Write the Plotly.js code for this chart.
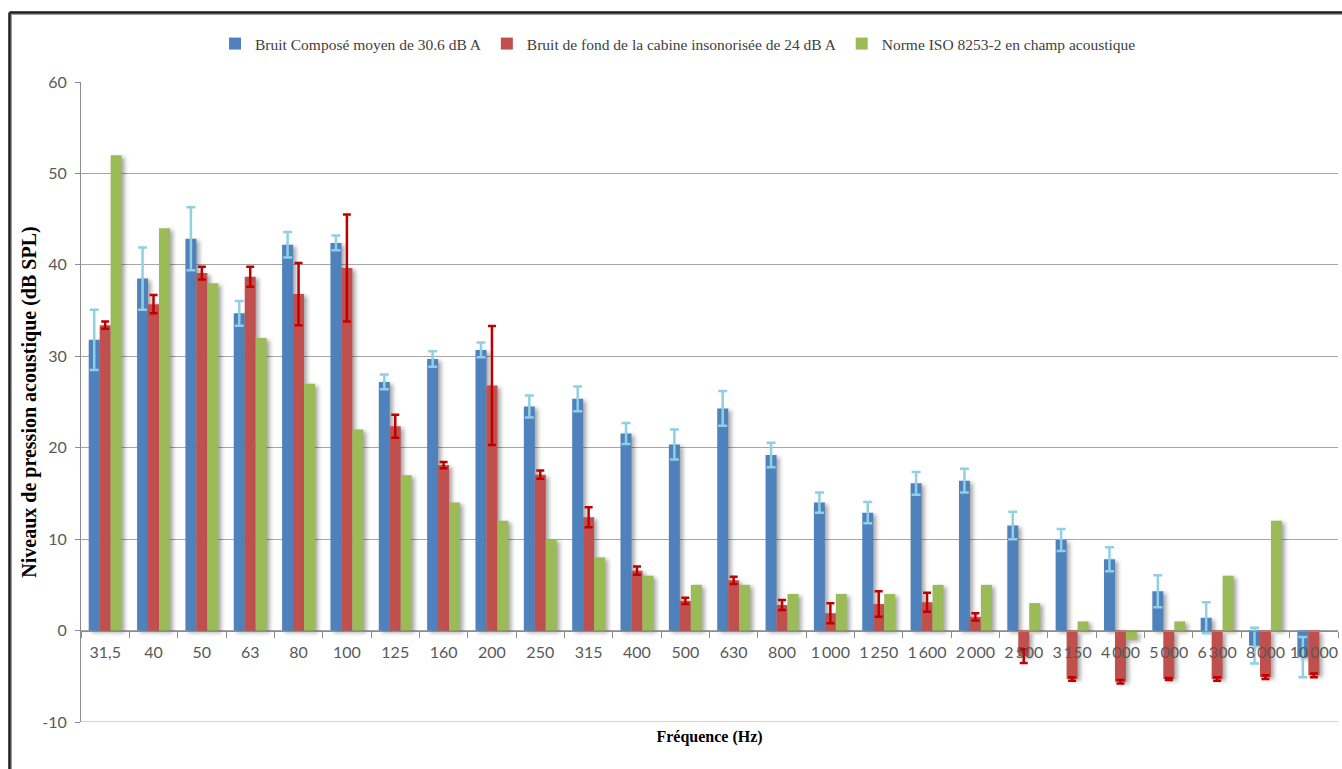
<!DOCTYPE html>
<html>
<head>
<meta charset="utf-8">
<script src="https://cdn.plot.ly/plotly-3.0.1.min.js"></script>
<style>
  html, body { margin: 0; padding: 0; background: #fff; }
  #chart { width: 1342px; height: 769px; }
  .barlayer .point path { filter: drop-shadow(3px 2px 2px rgba(0,0,0,0.35)); }
</style>
</head>
<body>
<div id="chart"></div>
<script>
// ---- Data ----
const categories = ['31,5','40','50','63','80','100','125','160','200','250','315','400','500','630','800',
  '1\u2009000','1\u2009250','1\u2009600','2\u2009000','2\u2009500','3\u2009150','4\u2009000','5\u2009000','6\u2009300','8\u2009000','10\u2009000'];

const seriesNames = [
  'Bruit Composé moyen de 30.6 dB A',
  'Bruit de fond de la cabine insonorisée de 24 dB A',
  'Norme ISO 8253-2 en champ acoustique'
];

const bruitCompose = [31.8, 38.5, 42.85, 34.7, 42.2, 42.4, 27.2, 29.7, 30.7, 24.5, 25.35, 21.55, 20.35, 24.3, 19.2,
  14.0, 12.9, 16.1, 16.4, 11.5, 9.9, 7.8, 4.3, 1.4, -1.65, -2.9];
const bruitComposeErr = [3.3, 3.4, 3.45, 1.35, 1.4, 0.8, 0.8, 0.85, 0.8, 1.2, 1.35, 1.15, 1.65, 1.9, 1.35,
  1.1, 1.15, 1.25, 1.3, 1.5, 1.2, 1.3, 1.75, 1.7, 1.95, 2.2];

const bruitFond = [33.4, 35.7, 39.1, 38.7, 36.8, 39.65, 22.35, 18.1, 26.8, 17.05, 12.4, 6.55, 3.25, 5.5, 2.8,
  1.9, 2.9, 3.1, 1.5, -2.8, -5.3, -5.6, -5.3, -5.3, -5.1, -4.9];
const bruitFondErr = [0.4, 1.0, 0.7, 1.1, 3.4, 5.85, 1.25, 0.35, 6.5, 0.45, 1.1, 0.45, 0.35, 0.4, 0.55,
  1.1, 1.4, 1.05, 0.4, 0.75, 0.2, 0.2, 0.1, 0.2, 0.2, 0.2];

const normeISO = [52, 44, 38, 32, 27, 22, 17, 14, 12, 10, 8, 6, 5, 5, 4, 4, 4, 5, 5, 3, 1, -1, 1, 6, 12, null];

const yTickVals = [-10, 0, 10, 20, 30, 40, 50, 60];
const yTickText = ['-10', '0', '10', '20', '30', '40', '50', '60'];

// ---- Styling ----
const tickFont = {family: 'Lato, "Open Sans", sans-serif', size: 16, color: '#595959'};
const axisGray = '#8c8c8c';

const traces = [
  {
    type: 'bar', name: seriesNames[0], x: categories, y: bruitCompose,
    marker: {color: '#4F81BD', line: {width: 0}},
    error_y: {type: 'data', array: bruitComposeErr, visible: true, color: '#8FD0E3', thickness: 2.5, width: 4.5}
  },
  {
    type: 'bar', name: seriesNames[1], x: categories, y: bruitFond,
    marker: {color: '#C0504D', line: {width: 0}},
    error_y: {type: 'data', array: bruitFondErr, visible: true, color: '#C00000', thickness: 2.5, width: 4}
  },
  {
    type: 'bar', name: seriesNames[2], x: categories, y: normeISO,
    marker: {color: '#9BBB59', line: {width: 0}}
  }
];

// plot area: x 81..1338, y 82..722
const L = 81, T = 82, W = 1257, H = 640;
const px = v => (v - L) / W;
const py = v => (T + H - v) / H;

const layout = {
  width: 1342, height: 769,
  margin: {l: L, r: 1342 - L - W, t: T, b: 769 - T - H, pad: 0},
  paper_bgcolor: '#ffffff', plot_bgcolor: '#ffffff',
  barmode: 'group', bargap: 0.32, bargroupgap: 0,
  showlegend: true,
  legend: {
    orientation: 'h', x: px(678), xanchor: 'center', y: py(44), yanchor: 'middle',
    font: {family: '"Liberation Serif", "DejaVu Serif", serif', size: 15.5, color: '#404040'},
    itemwidth: 30, traceorder: 'normal', bgcolor: 'rgba(0,0,0,0)'
  },
  xaxis: {
    type: 'category', anchor: 'free', position: 1 / 7,
    showline: true, linecolor: axisGray, linewidth: 1,
    ticks: 'outside', tickson: 'boundaries', ticklen: 6, tickcolor: axisGray, tickwidth: 1,
    showgrid: false, zeroline: false, tickangle: 0,
    tickfont: tickFont, ticklabelstandoff: 7,
    title: {
      text: 'Fréquence (Hz)', standoff: 71,
      font: {family: '"Liberation Serif", "DejaVu Serif", serif', size: 16, color: '#000000', weight: 'bold'}
    },
    fixedrange: true
  },
  yaxis: {
    range: [-10, 60], tickvals: yTickVals, ticktext: yTickText,
    showline: true, linecolor: axisGray, linewidth: 1,
    ticks: 'outside', ticklen: 5, tickcolor: axisGray,
    showgrid: true, gridcolor: '#a6a6a6', gridwidth: 1, zeroline: false,
    tickfont: tickFont, ticklabelstandoff: 5,
    title: {
      text: 'Niveaux de pression acoustique (dB SPL)', standoff: 0,
      font: {family: '"Liberation Serif", "DejaVu Serif", serif', size: 20, color: '#000000', weight: 'bold'}
    },
    fixedrange: true
  },
  shapes: [
    // outer frame (top and left edges visible in the picture)
    {type: 'line', xref: 'paper', yref: 'paper', x0: px(9.5), x1: px(1350), y0: py(12.5), y1: py(12.5),
     line: {color: '#1a1a1a', width: 2.5}},
    {type: 'line', xref: 'paper', yref: 'paper', x0: px(11), x1: px(1350), y0: py(14.5), y1: py(14.5),
     line: {color: '#9a9a9a', width: 1}},
    {type: 'line', xref: 'paper', yref: 'paper', x0: px(9.5), x1: px(9.5), y0: py(12.5), y1: py(780),
     line: {color: '#1a1a1a', width: 2.5}},
    {type: 'line', xref: 'paper', yref: 'paper', x0: px(11.5), x1: px(11.5), y0: py(14.5), y1: py(780),
     line: {color: '#9a9a9a', width: 1}},
    // -10 gridline at the bottom edge of the plot
    {type: 'line', xref: 'paper', yref: 'y', x0: 0, x1: 1, y0: -10, y1: -10, layer: 'below',
     line: {color: '#a6a6a6', width: 1}}
  ]
};

Plotly.newPlot('chart', traces, layout, {displayModeBar: false, staticPlot: true});
</script>
</body>
</html>
